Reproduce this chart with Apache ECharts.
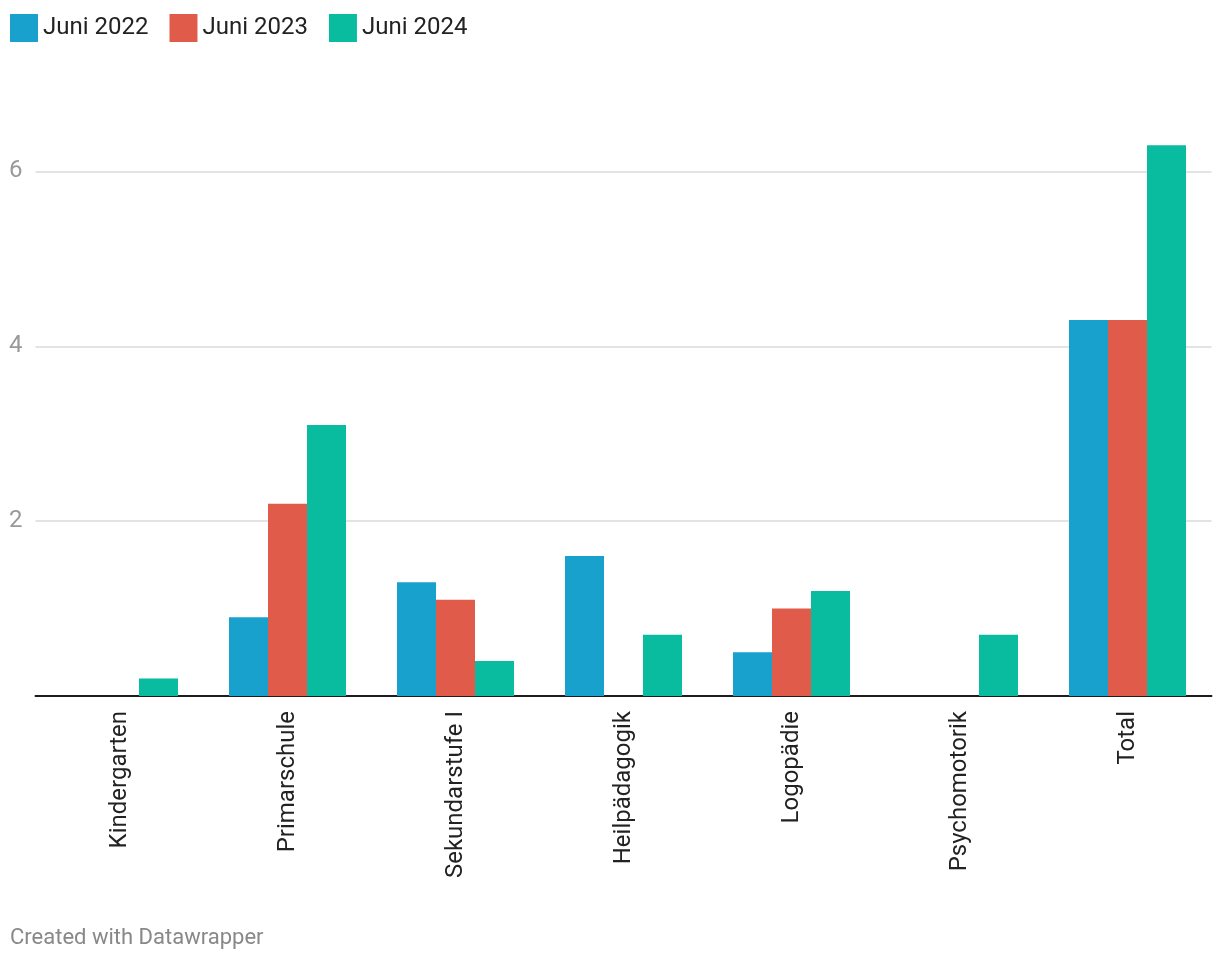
<!DOCTYPE html>
<html>
<head>
<meta charset="utf-8">
<script src="https://cdn.jsdelivr.net/npm/echarts@6/dist/echarts.min.js"></script>
<style>
html,body{margin:0;padding:0;background:#fff;}
#chart{width:1220px;height:960px;}
</style>
</head>
<body>
<div id="chart"></div>
<script>
const categories = ['Kindergarten', 'Primarschule', 'Sekundarstufe I', 'Heilpädagogik', 'Logopädie', 'Psychomotorik', 'Total'];
const seriesNames = ['Juni 2022', 'Juni 2023', 'Juni 2024'];
const juni2022 = [0, 0.9, 1.3, 1.6, 0.5, 0, 4.3];
const juni2023 = [0, 2.2, 1.1, 0, 1.0, 0, 4.3];
const juni2024 = [0.2, 3.1, 0.4, 0.7, 1.2, 0.7, 6.3];
const yTickLabels = ['', '2', '4', '6'];
const colors = ['#18a1cd', '#e05b4a', '#09bb9f'];
const footerText = 'Created with Datawrapper';

const chart = echarts.init(document.getElementById('chart'), null, {renderer: 'canvas'});
const font = 'Roboto, "Noto Sans", sans-serif';
const values = [juni2022, juni2023, juni2024];

chart.setOption({
  animation: false,
  color: colors,
  textStyle: {fontFamily: font},
  legend: {
    left: 10,
    top: 14,
    padding: 0,
    itemWidth: 28,
    itemHeight: 28,
    itemGap: 21,
    icon: 'rect',
    textStyle: {fontSize: 24, color: '#222', fontFamily: font},
    data: seriesNames
  },
  grid: {left: 35.5, right: 8.5, top: 84, bottom: 264, containLabel: false},
  xAxis: {
    type: 'category',
    data: categories,
    axisLine: {show: true, lineStyle: {color: '#1d1d1d', width: 2}},
    axisTick: {show: false},
    axisLabel: {rotate: 90, margin: 15, fontSize: 24, color: '#222', fontFamily: font, interval: 0}
  },
  yAxis: {
    type: 'value',
    min: 0,
    max: 7,
    interval: 2,
    axisLine: {show: false},
    axisTick: {show: false},
    axisLabel: {
      margin: 13, fontSize: 24, color: '#999', fontFamily: font,
      showMaxLabel: false,
      formatter: v => {
        const i = Math.round(v / 2);
        return (v % 2 === 0 && i < yTickLabels.length) ? yTickLabels[i] : '';
      }
    },
    splitLine: {showMaxLine: false, lineStyle: {color: '#e3e3e3', width: 2}}
  },
  series: seriesNames.map((n, i) => ({
    name: n,
    type: 'bar',
    data: values[i],
    barGap: '0%',
    barWidth: 39,
    itemStyle: {color: colors[i]}
  })),
  graphic: [{
    type: 'text',
    left: 10,
    top: 927,
    style: {text: footerText, fontSize: 22, fill: '#888', fontFamily: font}
  }]
});
</script>
</body>
</html>
